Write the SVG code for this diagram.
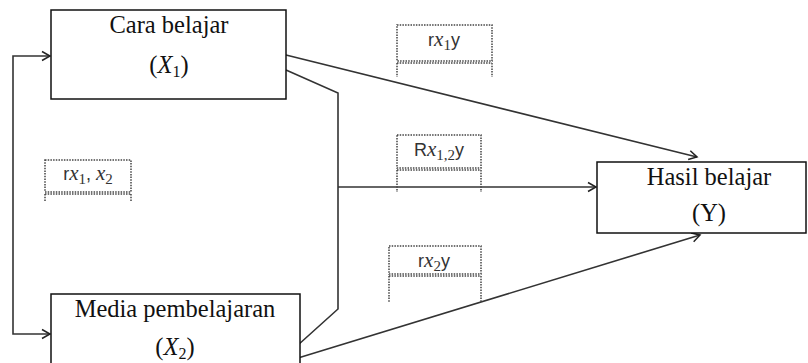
<svg xmlns="http://www.w3.org/2000/svg" width="808" height="363" viewBox="0 0 808 363">
<style>
.box{fill:#fff;stroke:#111;stroke-width:1.5}
.t{font-family:"Liberation Serif","Times New Roman",serif;font-size:24.5px;fill:#111;text-anchor:middle}
.c{fill:none;stroke:#333;stroke-width:1.6}
.dot{fill:none;stroke:#444;stroke-width:1.5;stroke-dasharray:1.5 1.2}
.l{font-family:"Liberation Sans","Open Sans",sans-serif;font-size:18px;fill:#333;text-anchor:middle}
.m{font-family:"Liberation Serif",serif;font-style:italic;font-size:21px}
.s{font-family:"Liberation Serif",serif;font-size:15px}
</style>
<defs>
<marker id="ar" markerWidth="12" markerHeight="12" refX="10" refY="6" orient="auto-start-reverse" markerUnits="userSpaceOnUse">
<path d="M2,1.5 L10,6 L2,10.5" fill="none" stroke="#222" stroke-width="1.5"/>
</marker>
</defs>
<g id="connectors">
<path class="c" d="M50,56 H13 V334 H50" marker-start="url(#ar)" marker-end="url(#ar)"/>
<path class="c" d="M286,55 L697,157" marker-end="url(#ar)"/>
<path class="c" d="M286,70 L338,93 V309 L298,345"/>
<path class="c" d="M338,187 H596" marker-end="url(#ar)"/>
<path class="c" d="M298,358 L700,235" marker-end="url(#ar)"/>
</g>
<g id="node-x1">
<rect class="box" x="51" y="10" width="235" height="89"/>
<text class="t" x="169" y="33">Cara belajar</text>
<text class="t" x="169" y="73">(<tspan font-style="italic">X</tspan><tspan font-size="16" dy="4">1</tspan><tspan dy="-4">)</tspan></text>
</g>
<g id="node-x2">
<rect class="box" x="51" y="294" width="249" height="80"/>
<text class="t" x="175" y="317">Media pembelajaran</text>
<text class="t" x="175" y="355">(<tspan font-style="italic">X</tspan><tspan font-size="16" dy="4">2</tspan><tspan dy="-4">)</tspan></text>
</g>
<g id="node-y">
<rect class="box" x="597" y="162" width="209" height="71"/>
<text class="t" x="709" y="185">Hasil belajar</text>
<text class="t" x="709" y="221">(Y)</text>
</g>
<g id="label-rx1y">
<rect class="dot" x="397" y="25" width="95" height="36"/>
<path class="dot" d="M397,63 H492 M397,63 V77 M492,63 V77"/>
<text class="l" x="444" y="46">r<tspan class="m">x</tspan><tspan class="s" dy="4">1</tspan><tspan dy="-4">y</tspan></text>
</g>
<g id="label-rx12y">
<rect class="dot" x="397" y="135" width="84" height="33"/>
<path class="dot" d="M397,170 H481 M397,170 V192 M481,170 V192"/>
<text class="l" x="439" y="156">R<tspan class="m">x</tspan><tspan class="s" dy="4">1,2</tspan><tspan dy="-4">y</tspan></text>
</g>
<g id="label-rx2y">
<rect class="dot" x="389" y="246" width="92" height="28"/>
<path class="dot" d="M389,276 H481 M389,276 V302 M481,276 V302"/>
<text class="l" x="434" y="267">r<tspan class="m">x</tspan><tspan class="s" dy="4">2</tspan><tspan dy="-4">y</tspan></text>
</g>
<g id="label-rx1x2">
<rect class="dot" x="45" y="160" width="86" height="32"/>
<path class="dot" d="M45,194 H131 M45,194 V202 M131,194 V202"/>
<text class="l" x="88" y="180">r<tspan class="m">x</tspan><tspan class="s" dy="4">1</tspan><tspan dy="-4">, </tspan><tspan class="m">x</tspan><tspan class="s" dy="4">2</tspan></text>
</g>
</svg>
